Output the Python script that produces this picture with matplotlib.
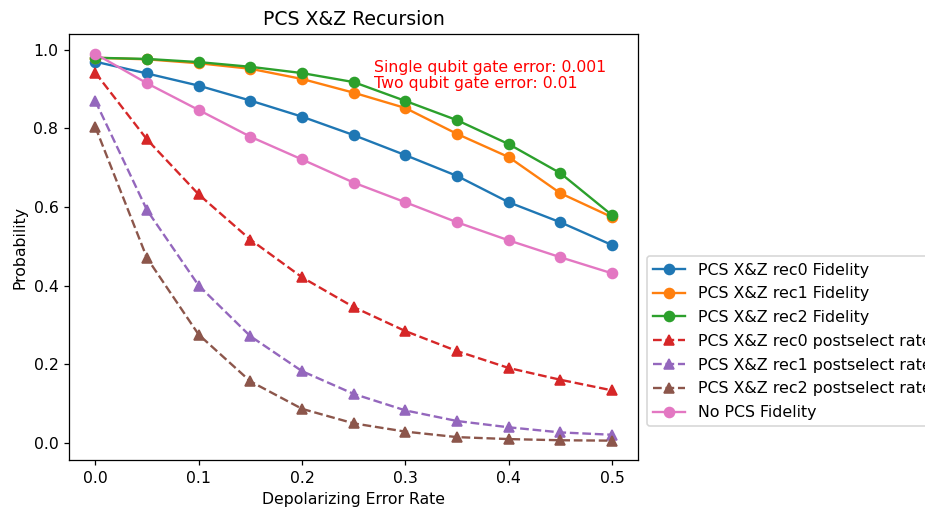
import matplotlib
matplotlib.use('Agg')
import matplotlib.pyplot as plt
import numpy as np

error_rate = [0.0, 0.05, 0.1, 0.15, 0.2, 0.25, 0.3, 0.35, 0.4, 0.45, 0.5]

rec0_fid = [0.970, 0.940, 0.909, 0.871, 0.830, 0.783, 0.732, 0.679, 0.612, 0.561, 0.503]
rec1_fid = [0.980, 0.976, 0.966, 0.952, 0.926, 0.891, 0.852, 0.786, 0.727, 0.635, 0.574]
rec2_fid = [0.980, 0.977, 0.969, 0.957, 0.941, 0.918, 0.870, 0.821, 0.760, 0.686, 0.579]
rec0_rate = [0.942, 0.772, 0.632, 0.517, 0.421, 0.345, 0.284, 0.233, 0.190, 0.160, 0.133]
rec1_rate = [0.870, 0.592, 0.400, 0.271, 0.182, 0.124, 0.082, 0.055, 0.039, 0.026, 0.020]
rec2_rate = [0.804, 0.470, 0.275, 0.156, 0.086, 0.049, 0.028, 0.014, 0.009, 0.006, 0.005]
no_pcs_fid = [0.990, 0.915, 0.847, 0.779, 0.721, 0.662, 0.612, 0.561, 0.515, 0.472, 0.431]

dpi = 113
plt.rcParams['lines.markersize'] = 6.4
fig = plt.figure(figsize=(925 / dpi, 508 / dpi), dpi=dpi)
ax = fig.add_axes([0.0751, 0.0945, 0.6146, 0.8376])

ax.plot(error_rate, rec0_fid, 'o-', label='PCS X&Z rec0 Fidelity')
ax.plot(error_rate, rec1_fid, 'o-', label='PCS X&Z rec1 Fidelity')
ax.plot(error_rate, rec2_fid, 'o-', label='PCS X&Z rec2 Fidelity')
ax.plot(error_rate, rec0_rate, '^--', label='PCS X&Z rec0 postselect rate')
ax.plot(error_rate, rec1_rate, '^--', label='PCS X&Z rec1 postselect rate')
ax.plot(error_rate, rec2_rate, '^--', label='PCS X&Z rec2 postselect rate')
ax.plot(error_rate, no_pcs_fid, 'o-', label='No PCS Fidelity')

ax.text(0.27, 0.895, 'Single qubit gate error: 0.001\nTwo qubit gate error: 0.01',
        color='red', fontsize=10, va='bottom', linespacing=1.1)

ax.set_title('PCS X&Z Recursion')
ax.set_xlabel('Depolarizing Error Rate')
ax.set_ylabel('Probability')
# legend sits outside the axes and runs past the right edge, like the original
ax.legend(loc='upper left', bbox_to_anchor=(1.0158, 0.479), borderaxespad=0,
          fontsize=10.15, labelspacing=0.55)

plt.savefig('out.png', dpi=dpi)
